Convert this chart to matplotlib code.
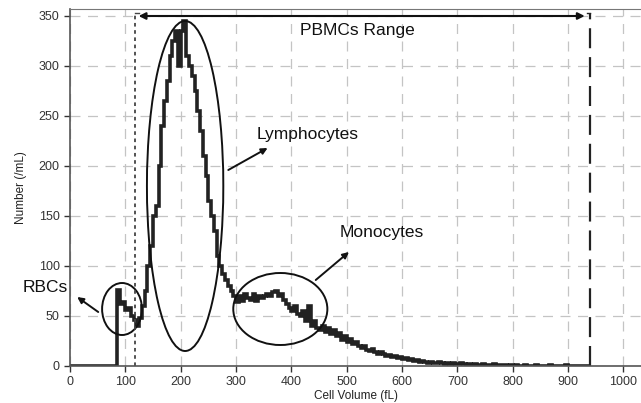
import numpy as np
import matplotlib
matplotlib.use("Agg")
import matplotlib.pyplot as plt
from matplotlib.patches import Ellipse

plt.rcParams['font.family'] = ['Liberation Sans', 'DejaVu Sans']

# Histogram: bin width 5 fL starting at 0
bin_width = 5
counts = [
    # 0 - 80
    0, 0, 0, 0, 0, 0, 0, 0, 0, 0, 0, 0, 0, 0, 0, 0, 0,
    # 85 - 135
    76, 62, 64, 56, 58, 50, 46, 40, 48, 60, 75,
    # 140 - 195
    100, 120, 150, 160, 200, 240, 265, 285, 310, 325, 335, 300,
    # 200 - 255
    335, 345, 310, 300, 290, 275, 255, 235, 210, 190, 165, 150,
    # 260 - 315
    135, 110, 100, 92, 86, 80, 75, 70, 64, 70, 65, 72,
    # 320 - 375
    68, 66, 72, 65, 70, 68, 70, 72, 70, 74, 75, 70,
    # 380 - 435
    72, 66, 62, 58, 55, 60, 52, 50, 55, 45, 60, 40,
    # 440 - 495
    45, 38, 36, 40, 34, 38, 32, 36, 30, 33, 26, 30,
    # 500 - 555
    24, 27, 22, 24, 20, 18, 20, 16, 15, 17, 14, 12,
    # 560 - 615
    14, 12, 10, 11, 9, 10, 8, 9, 7, 8, 6, 7,
    # 620 - 675
    5, 6, 4, 5, 4, 3, 4, 3, 3, 4, 3, 2,
    # 680 - 735
    3, 2, 3, 2, 2, 3, 2, 1, 2, 1, 2, 1,
    # 740 - 795
    1, 2, 1, 1, 1, 2, 1, 1, 1, 1, 0.5, 1,
    # 800 - 855
    0.5, 1, 0.5, 0.5, 1, 0.5, 0.5, 0.5, 1, 0.5, 0.5, 0.5,
    # 860 - 915
    0.5, 1, 0.5, 0.5, 0.5, 0.5, 0.5, 1, 0.5, 0.5, 0.5, 0.5,
    # 920 - 935
    0.5, 0.5, 0.5, 0.5,
]
edges = np.arange(len(counts) + 1) * bin_width

pbmc_low, pbmc_high = 118, 940

fig = plt.figure(figsize=(6.41, 4.03), dpi=100)
ax = fig.add_axes([70 / 641, 1 - 366 / 403, 1 - 70 / 641 + 0.002, 357 / 403])
ax.set_xlim(0, 1034)
ax.set_ylim(0, 357)

ax.grid(True, color='#c4c4c4', linestyle=(0, (8, 6)), linewidth=0.9)
ax.set_axisbelow(True)

ax.stairs(counts, edges, color='#222222', linewidth=2.6, baseline=None)

# PBMC range markers
ax.plot([pbmc_low, pbmc_low], [0, 353], color='#444444', linestyle=(0, (2, 2)), linewidth=1.3)
ax.plot([pbmc_low, pbmc_low + 6], [353, 353], color='#444444', linewidth=1.0)
ax.plot([pbmc_high, pbmc_high], [0, 353], color='#222222', linestyle=(0, (9, 4)), linewidth=1.6)
ax.plot([pbmc_high - 5, pbmc_high], [353, 353], color='#222222', linewidth=1.0)
ax.annotate('', xy=(124, 350), xytext=(930, 350),
            arrowprops=dict(arrowstyle='<|-|>', color='#111111', lw=1.5,
                            mutation_scale=10, shrinkA=0, shrinkB=0))
ax.text(520, 336, 'PBMCs Range', fontsize=12.5, ha='center', va='center', color='#111111')

# Ellipses
ell_kw = dict(fill=False, edgecolor='#111111', linewidth=1.4)
ax.add_patch(Ellipse((94, 57), 72, 52, **ell_kw))
ax.add_patch(Ellipse((208, 180), 138, 330, **ell_kw))
ax.add_patch(Ellipse((380, 57), 170, 72, **ell_kw))

arrow_kw = dict(arrowstyle='-|>', color='#111111', lw=1.4, mutation_scale=9, shrinkA=0, shrinkB=0)
ax.annotate('', xy=(13, 69), xytext=(51, 54), arrowprops=arrow_kw)
ax.annotate('', xy=(357, 218), xytext=(286, 196), arrowprops=arrow_kw)
ax.annotate('', xy=(504, 114), xytext=(444, 86), arrowprops=arrow_kw)

ax.text(-45, 78, 'RBCs', fontsize=12.5, ha='center', va='center', color='#111111', clip_on=False)
ax.text(337, 231, 'Lymphocytes', fontsize=12.5, ha='left', va='center', color='#111111')
ax.text(487, 133, 'Monocytes', fontsize=12.5, ha='left', va='center', color='#111111')

ax.set_xticks(np.arange(0, 1001, 100))
ax.set_yticks(np.arange(0, 351, 50))
ax.tick_params(labelsize=9, colors='#333333', length=4, width=1, direction='out')
ax.set_xlabel('Cell Volume (fL)', fontsize=8.5, color='#222222', labelpad=1)
ax.set_ylabel('Number (/mL)', fontsize=8.5, color='#222222', labelpad=8)

for side in ['left', 'bottom']:
    ax.spines[side].set_color('#555555')
    ax.spines[side].set_linewidth(1.2)
ax.spines['top'].set_color('#777777')
ax.spines['right'].set_visible(False)

fig.savefig('out.png', dpi=100)
